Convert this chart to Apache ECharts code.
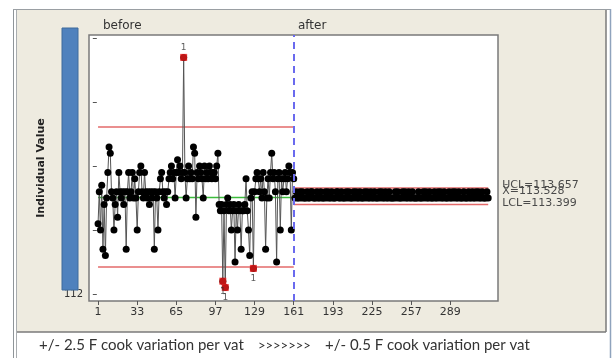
<!DOCTYPE html>
<html>
<head>
<meta charset="utf-8">
<title>I Chart - before / after</title>
<script src="https://cdn.jsdelivr.net/npm/echarts@6/dist/echarts.min.js"></script>
<style>
    html, body { margin: 0; padding: 0; background: #fff; }
    #chart { width: 614px; height: 358px; }
</style>
</head>
<body>
<div id="chart"></div>
<script>
// observation numbers shown on the x axis
const xTicks = [1, 33, 65, 97, 129, 161, 193, 225, 257, 289]
const yTicks = [112, 113, 114, 115, 116]
const yLabels = [112] // the rest are hidden under the blue bar

// stage 1 (+/- 2.5 F), obs 1..161
const beforeValues = [
    113.1, 113.6, 113.0, 113.7, 112.7, 113.4, 112.6, 113.5, 113.9, 114.3,
    114.2, 113.6, 113.5, 113.0, 113.4, 113.6, 113.2, 113.9, 113.6, 113.5,
    113.6, 113.4, 113.6, 112.7, 113.6, 113.9, 113.5, 113.6, 113.9, 113.5,
    113.8, 113.5, 113.0, 113.6, 113.9, 114.0, 113.6, 113.5, 113.9, 113.6,
    113.5, 113.6, 113.4, 113.6, 113.5, 113.6, 112.7, 113.6, 113.5, 113.0,
    113.6, 113.8, 113.9, 113.6, 113.5, 113.6, 113.4, 113.6, 113.8, 113.9,
    114.0, 113.8, 113.9, 113.5, 113.9, 114.1, 113.9, 114.0, 113.8, 113.9,
    115.7, 113.9, 113.5, 113.8, 114.0, 113.8, 113.9, 113.8, 114.3, 114.2,
    113.2, 113.9, 113.8, 114.0, 113.9, 113.8, 113.5, 114.0, 113.8, 113.9,
    113.8, 114.0, 113.9, 113.8, 113.9, 113.9, 113.8, 114.0, 114.2, 113.4,
    113.3, 113.4, 112.2, 113.3, 112.1, 113.4, 113.5, 113.3, 113.4, 113.0,
    113.3, 113.4, 112.5, 113.3, 113.0, 113.4, 113.3, 112.7, 113.3, 113.3,
    113.4, 113.8, 113.3, 113.0, 112.6, 113.5, 113.6, 112.4, 113.6, 113.8,
    113.9, 113.8, 113.6, 113.8, 113.5, 113.9, 113.6, 112.7, 113.5, 113.8,
    113.5, 113.9, 114.2, 113.8, 113.9, 113.6, 112.5, 113.8, 113.9, 113.0,
    113.8, 113.6, 113.8, 113.9, 113.6, 113.8, 114.0, 113.9, 113.0, 113.9,
    113.8
]

// stage 2 (+/- 0.5 F), obs 162..320
const afterValues = [
    113.5, 113.6, 113.5, 113.5, 113.6, 113.5, 113.6, 113.5, 113.5, 113.5,
    113.6, 113.5, 113.5, 113.6, 113.6, 113.5, 113.5, 113.5, 113.6, 113.5,
    113.5, 113.6, 113.5, 113.5, 113.5, 113.6, 113.5, 113.6, 113.5, 113.5,
    113.6, 113.5, 113.5, 113.5, 113.6, 113.6, 113.5, 113.5, 113.6, 113.5,
    113.5, 113.5, 113.6, 113.5, 113.6, 113.5, 113.5, 113.5, 113.6, 113.5,
    113.6, 113.5, 113.5, 113.6, 113.5, 113.5, 113.5, 113.6, 113.5, 113.6,
    113.5, 113.5, 113.6, 113.5, 113.5, 113.6, 113.5, 113.5, 113.5, 113.6,
    113.5, 113.6, 113.5, 113.5, 113.6, 113.5, 113.5, 113.6, 113.5, 113.5,
    113.5, 113.5, 113.6, 113.5, 113.6, 113.5, 113.5, 113.5, 113.6, 113.5,
    113.6, 113.5, 113.5, 113.6, 113.5, 113.5, 113.6, 113.5, 113.5, 113.5,
    113.5, 113.6, 113.5, 113.5, 113.5, 113.6, 113.5, 113.6, 113.5, 113.5,
    113.6, 113.5, 113.5, 113.5, 113.6, 113.5, 113.5, 113.6, 113.5, 113.6,
    113.5, 113.5, 113.6, 113.5, 113.5, 113.5, 113.6, 113.5, 113.5, 113.6,
    113.5, 113.6, 113.5, 113.5, 113.6, 113.5, 113.5, 113.5, 113.6, 113.5,
    113.5, 113.5, 113.6, 113.5, 113.5, 113.6, 113.5, 113.5, 113.6, 113.5,
    113.6, 113.5, 113.5, 113.6, 113.5, 113.5, 113.5, 113.6, 113.5
]

// LCL, center, UCL
const beforeLimits = [112.42, 113.51, 114.61]
const afterLimits = [113.399, 113.528, 113.657]
const limitNames = ['LCL', 'X\u0304', 'UCL']
const stageNames = ['before', 'after']
const footNotes = ['+/- 2.5 F cook variation per vat', '>>>>>>>', '+/- 0.5 F cook variation per vat']

const nBefore = beforeValues.length
const nAll = nBefore + afterValues.length
const beforePts = beforeValues.map((v, i) => [i + 1, v])
const afterPts = afterValues.map((v, i) => [nBefore + 1 + i, v])
// test 1 failures -> red squares
const outPts = beforePts.filter(p => p[1] > beforeLimits[2] || p[1] < beforeLimits[0])

const font = 'DejaVu Sans'
const labelOffsets = [[0, -1.5], [0, -5], [0, -3]]

function limitLine(lim, k, x0, x1, withLabel) {
    return {
        type: 'line',
        data: [[x0, lim[k]], [x1, lim[k]]],
        symbol: 'none',
        silent: true,
        z: 1,
        lineStyle: { color: k === 1 ? '#3cbc3c' : '#e36a6a', width: 1.5 },
        endLabel: {
            show: withLabel,
            formatter: limitNames[k] + '=' + lim[k].toFixed(3),
            fontFamily: font,
            fontSize: 11,
            color: '#4a4a4a',
            distance: 14,
            offset: labelOffsets[k]
        }
    }
}

function dataLine(pts) {
    return {
        type: 'line',
        data: pts,
        symbol: 'circle',
        symbolSize: 7,
        z: 3,
        itemStyle: { color: '#000' },
        lineStyle: { color: '#555', width: 1 }
    }
}

const chart = echarts.init(document.getElementById('chart'), null, { renderer: 'canvas' })

const series = [
    limitLine(beforeLimits, 0, 1, nBefore, false),
    limitLine(beforeLimits, 1, 1, nBefore, false),
    limitLine(beforeLimits, 2, 1, nBefore, false),
    limitLine(afterLimits, 0, nBefore, nAll, true),
    limitLine(afterLimits, 1, nBefore, nAll, true),
    limitLine(afterLimits, 2, nBefore, nAll, true),
    dataLine(beforePts),
    dataLine(afterPts),
    {
        type: 'scatter',
        data: outPts.map(p => ({
            value: p,
            label: { position: p[1] > beforeLimits[2] ? 'top' : 'bottom' }
        })),
        symbol: 'rect',
        symbolSize: 7,
        z: 4,
        itemStyle: { color: '#ee1c1c' },
        label: { show: true, formatter: '1', fontFamily: font, fontSize: 9, color: '#333', distance: 2 }
    }
]
// stage divider
series[6].markLine = {
    silent: true,
    symbol: ['none', 'none'],
    label: { show: false },
    lineStyle: { color: '#6a6aee', type: [7, 5], width: 2 },
    data: [{ xAxis: nBefore }]
}

const option = {
    animation: false,
    grid: {
        left: 89, top: 35, right: 116, bottom: 57,
        show: true,
        backgroundColor: '#fff',
        borderColor: '#7a7a7a',
        borderWidth: 1.5
    },
    xAxis: {
        type: 'value',
        min: -6.4,
        max: 328,
        axisLine: { show: false },
        splitLine: { show: false },
        axisTick: { show: true, customValues: xTicks, length: 4, lineStyle: { color: '#555' } },
        axisLabel: { customValues: xTicks, fontFamily: font, fontSize: 11, color: '#333', margin: 6 }
    },
    yAxis: {
        type: 'value',
        min: 111.89,
        max: 116.05,
        name: 'Individual Value',
        nameLocation: 'middle',
        nameGap: 42,
        nameTextStyle: { fontFamily: font, fontSize: 11, fontWeight: 'bold', color: '#222' },
        axisLine: { show: false },
        splitLine: { show: false },
        axisTick: { show: true, customValues: yTicks, length: 4, lineStyle: { color: '#555' } },
        axisLabel: { customValues: yLabels, fontFamily: font, fontSize: 10, color: '#333', margin: 6 }
    },
    graphic: [
        // window frame + beige panel
        { type: 'rect', z: -20, shape: { x: 17, y: 10, width: 589, height: 322 }, style: { fill: '#eeebe0' } },
        { type: 'line', z: -19, shape: { x1: 13.5, y1: 9, x2: 13.5, y2: 358 }, style: { stroke: '#8f9599', lineWidth: 1 } },
        { type: 'line', z: -19, shape: { x1: 16.5, y1: 9, x2: 16.5, y2: 358 }, style: { stroke: '#a9adb0', lineWidth: 1 } },
        { type: 'line', z: -19, shape: { x1: 13, y1: 9.5, x2: 611, y2: 9.5 }, style: { stroke: '#9a9fa3', lineWidth: 1 } },
        { type: 'line', z: -19, shape: { x1: 610.5, y1: 9, x2: 610.5, y2: 358 }, style: { stroke: '#8fa3bd', lineWidth: 1.5 } },
        { type: 'line', z: -19, shape: { x1: 606, y1: 10, x2: 606, y2: 332 }, style: { stroke: '#7a7a7a', lineWidth: 1.5 } },
        { type: 'line', z: -19, shape: { x1: 17, y1: 332, x2: 606, y2: 332 }, style: { stroke: '#7a7a7a', lineWidth: 1.5 } },
        // blue bar over the y tick labels
        { type: 'rect', z: 10, shape: { x: 62, y: 28, width: 16, height: 262 }, style: { fill: '#4f81bd', stroke: '#3f6a9c', lineWidth: 1 } },
        // stage names
        { type: 'text', z: 10, left: 103, top: 20, style: { text: stageNames[0], font: '12px "DejaVu Sans"', fill: '#333' } },
        { type: 'text', z: 10, left: 298, top: 20, style: { text: stageNames[1], font: '12px "DejaVu Sans"', fill: '#333' } },
        // note under the chart
        { type: 'text', left: 39, top: 338, style: { text: footNotes[0], font: '15px Lato', fill: '#333' } },
        { type: 'text', left: 258, top: 339, style: { text: footNotes[1], font: '13px Lato', fill: '#333' } },
        { type: 'text', left: 325, top: 338, style: { text: footNotes[2], font: '15px Lato', fill: '#333' } }
    ],
    series: series
}

chart.setOption(option)
window.addEventListener('resize', () => chart.resize())
</script>
</body>
</html>
